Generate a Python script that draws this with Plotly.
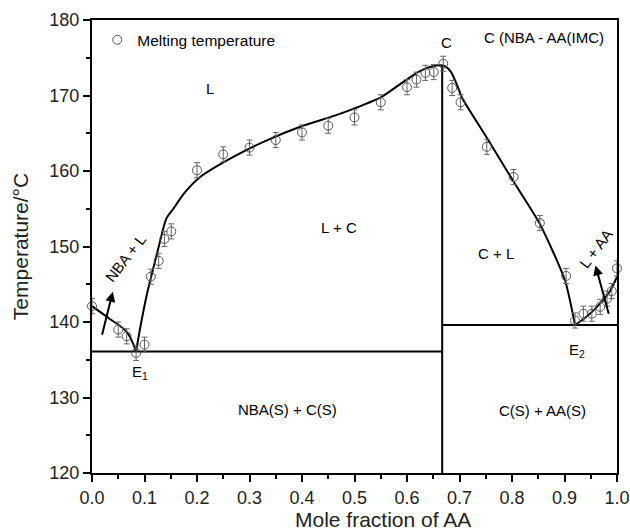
import plotly.graph_objects as go

# Measured melting temperatures
mole_fraction_aa = [0.0, 0.05, 0.066, 0.084, 0.10, 0.112, 0.127, 0.138, 0.151,
                    0.20, 0.25, 0.30, 0.35, 0.40, 0.45, 0.50, 0.55, 0.60, 0.618,
                    0.635, 0.651, 0.669, 0.686, 0.702, 0.752, 0.803, 0.853,
                    0.903, 0.920, 0.936, 0.952, 0.968, 0.981, 0.990, 1.0]
melting_temp = [142.1, 139.0, 138.1, 135.9, 137.0, 146.0, 148.1, 151.0, 152.0,
                160.1, 162.2, 163.1, 164.1, 165.1, 166.0, 167.1, 169.1, 171.1, 172.1,
                173.0, 173.1, 174.2, 171.0, 169.1, 163.2, 159.2, 153.1,
                146.1, 140.2, 141.1, 141.1, 142.0, 143.1, 144.1, 147.1]
temp_error = [1.0] * len(melting_temp)

# Liquidus curves
nba_liq_x = [0.0, 0.034, 0.066, 0.084]
nba_liq_y = [142.1, 140.4, 138.7, 136.1]
imc_liq_x = [0.084, 0.092, 0.105, 0.124, 0.1415, 0.155, 0.175, 0.206, 0.27, 0.334,
             0.398, 0.461, 0.50, 0.551, 0.589, 0.621, 0.645, 0.660, 0.672, 0.684,
             0.697, 0.704, 0.752, 0.802, 0.853, 0.901, 0.920]
imc_liq_y = [136.1, 139.3, 143.8, 149.1, 153.7, 155.0, 157.0, 159.2, 161.9, 164.1,
             165.9, 167.3, 168.3, 169.8, 171.6, 173.1, 173.8, 174.0, 173.9, 173.1,
             171.1, 169.8, 164.4, 158.7, 153.0, 145.5, 139.6]
aa_liq_x = [0.920, 0.94, 0.959, 0.984, 1.0]
aa_liq_y = [139.6, 140.6, 141.8, 143.8, 146.0]

# Eutectic / compound lines
e1_temp = 136.1
e2_temp = 139.6
compound_x = 0.667
compound_top = 174.0
y_min, y_max = 120, 180

fig = go.Figure()

line_style = dict(color="black", width=2)

fig.add_trace(go.Scatter(x=nba_liq_x, y=nba_liq_y, mode="lines",
                         line=dict(**line_style, shape="spline"), showlegend=False,
                         hoverinfo="skip"))
fig.add_trace(go.Scatter(x=imc_liq_x, y=imc_liq_y, mode="lines",
                         line=dict(**line_style, shape="spline", smoothing=0.6),
                         showlegend=False, hoverinfo="skip"))
fig.add_trace(go.Scatter(x=aa_liq_x, y=aa_liq_y, mode="lines",
                         line=dict(**line_style, shape="spline"), showlegend=False,
                         hoverinfo="skip"))
fig.add_trace(go.Scatter(x=[0.0, compound_x], y=[e1_temp, e1_temp], mode="lines",
                         line=line_style, showlegend=False, hoverinfo="skip"))
fig.add_trace(go.Scatter(x=[compound_x, 1.0], y=[e2_temp, e2_temp], mode="lines",
                         line=line_style, showlegend=False, hoverinfo="skip"))
fig.add_trace(go.Scatter(x=[compound_x, compound_x], y=[y_min, compound_top], mode="lines",
                         line=line_style, showlegend=False, hoverinfo="skip"))

fig.add_trace(go.Scatter(
    x=mole_fraction_aa, y=melting_temp, mode="markers",
    name="Melting temperature",
    marker=dict(symbol="circle-open", size=9, color="#555555", line=dict(width=1, color="#555555")),
    error_y=dict(type="data", array=temp_error, color="#666666", thickness=1, width=3),
    cliponaxis=False,
))

font_fam = "Liberation Sans, Arial, sans-serif"
ann_font = dict(family=font_fam, size=15, color="black")

labels = [
    ("L", 0.224, 170.9),
    ("L + C", 0.471, 152.5),
    ("NBA(S) + C(S)", 0.372, 128.4),
    ("C + L", 0.769, 149.1),
    ("C(S) + AA(S)", 0.858, 128.3),
    ("C", 0.676, 177.0),
    ("C (NBA - AA(IMC)", 0.861, 177.7),
    ("E<sub>1</sub>", 0.092, 133.3),
    ("E<sub>2</sub>", 0.924, 136.2),
]
for txt, lx, ly in labels:
    fig.add_annotation(x=lx, y=ly, text=txt, showarrow=False, font=ann_font)

fig.add_annotation(x=0.063, y=148.4, text="NBA + L", showarrow=False, font=ann_font, textangle=-52)
fig.add_annotation(x=0.960, y=149.7, text="L + AA", showarrow=False, font=ann_font, textangle=-53)

# arrows
fig.add_annotation(x=0.0396, y=144.0, ax=0.0185, ay=138.1, xref="x", yref="y", axref="x", ayref="y",
                   text="", showarrow=True, arrowhead=2, arrowsize=1, arrowwidth=2, arrowcolor="black")
fig.add_annotation(x=0.959, y=147.5, ax=0.985, ay=140.9, xref="x", yref="y", axref="x", ayref="y",
                   text="", showarrow=True, arrowhead=2, arrowsize=1, arrowwidth=2, arrowcolor="black")

# x-axis title as annotation (offset right in original)
fig.add_annotation(x=0.554, y=-0.103, xref="paper", yref="paper", text="Mole fraction of AA",
                   showarrow=False, font=dict(family=font_fam, size=21, color="#222222"),
                   yanchor="middle")

axis_common = dict(showline=True, linecolor="black", linewidth=2, mirror=True,
                   ticks="outside", ticklen=7, tickwidth=1.5, tickcolor="black",
                   showgrid=False, zeroline=False, automargin=False,
                   tickfont=dict(family=font_fam, size=18, color="#222222"))

fig.update_xaxes(range=[0, 1], dtick=0.1, tick0=0, tickformat=".1f",
                 minor=dict(dtick=0.05, ticks="outside", ticklen=4, tickcolor="black", tickwidth=1.5),
                 **axis_common)
fig.update_yaxes(range=[y_min, y_max], dtick=10, tick0=120,
                 minor=dict(dtick=5, ticks="outside", ticklen=4, tickcolor="black", tickwidth=1.5),
                 title=dict(text="Temperature/°C", font=dict(family=font_fam, size=21, color="#222222"),
                            standoff=15),
                 **axis_common)

fig.update_layout(
    width=630, height=530,
    margin=dict(l=92, r=13, t=20, b=57),
    paper_bgcolor="white", plot_bgcolor="white",
    showlegend=True,
    legend=dict(x=0.01, y=0.993, xanchor="left", yanchor="top", bgcolor="rgba(0,0,0,0)",
                font=dict(family=font_fam, size=15.5, color="black")),
    font=dict(family=font_fam),
)

fig.write_html("out.html", config={"displayModeBar": False},
               post_script="document.body.style.margin='0';")
